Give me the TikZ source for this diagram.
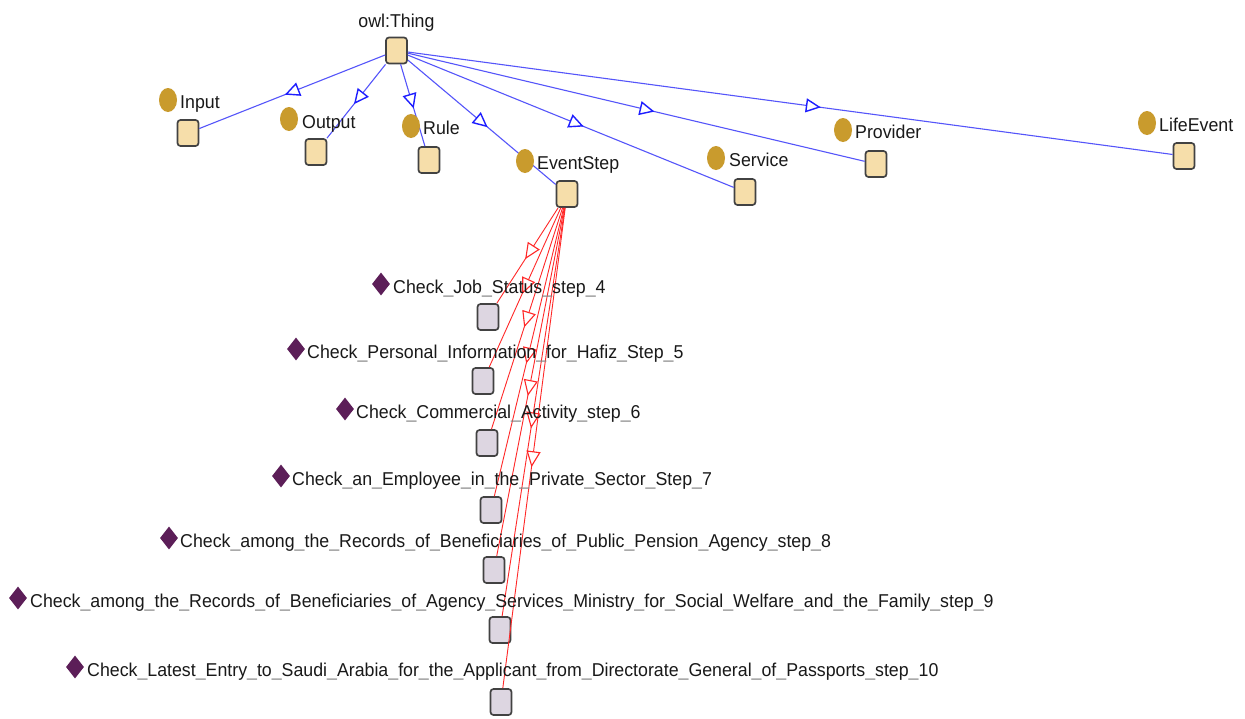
\documentclass[tikz,border=0pt]{standalone}
\usepackage{fontspec}
\setmainfont[FakeStretch=0.955]{Liberation Sans}
\usetikzlibrary{arrows.meta,decorations.markings,shapes.geometric}

\definecolor{classfill}{RGB}{246,222,170}
\definecolor{indfill}{RGB}{221,214,225}
\definecolor{boxline}{RGB}{66,66,66}
\definecolor{dotgold}{RGB}{201,155,45}
\definecolor{dotpurple}{RGB}{92,30,88}
\definecolor{isablue}{RGB}{85,85,250}
\definecolor{tipblue}{RGB}{30,30,255}
\definecolor{typered}{RGB}{255,40,40}
\definecolor{txt}{RGB}{25,25,25}
\definecolor{uscol}{RGB}{135,135,135}
\newcommand\us{{\color{uscol}\_}}

\tikzset{
  boxbase/.style={draw=boxline, line width=1.7pt, rounded corners=3pt,
    minimum width=21pt, minimum height=26pt, inner sep=0pt},
  classbox/.style={boxbase, fill=classfill},
  indbox/.style={boxbase, fill=indfill},
  classdot/.style={ellipse, fill=dotgold, minimum width=18pt, minimum height=24pt, inner sep=0pt},
  inddot/.style={diamond, fill=dotpurple, minimum width=18pt, minimum height=23pt, inner sep=0pt},
  lbl/.style={anchor=base west, inner sep=0pt, text=txt},
  isa/.style={draw=isablue, line width=1.1pt, postaction={decorate},
    decoration={markings, mark=at position 0.54 with
      {\arrow[tipblue, line width=1.4pt]{Triangle[fill=white, length=15pt, width=14pt]}}}},
  typeof/.style={draw=typered, line width=0.9pt, postaction={decorate},
    decoration={markings, mark=at position 0.54 with
      {\arrow[typered, line width=1.1pt]{Triangle[fill=white, length=16pt, width=14pt]}}}},
}

\begin{document}
\begin{tikzpicture}[x=1pt, y=-1pt, font=\fontsize{18.6}{21}\selectfont]
\useasboundingbox[fill=white] (0,0) rectangle (1245,718);

% class boxes
\node[classbox] (thing)     at (396.5,50.5) {};
\node[classbox] (input)     at (188,133) {};
\node[classbox] (output)    at (316,152) {};
\node[classbox] (rule)      at (429,160) {};
\node[classbox] (eventstep) at (567,194) {};
\node[classbox] (service)   at (745,192) {};
\node[classbox] (provider)  at (876,164) {};
\node[classbox] (lifeevent) at (1184,156) {};

% individual boxes
\node[indbox] (s4)  at (488,317) {};
\node[indbox] (s5)  at (483,381) {};
\node[indbox] (s6)  at (487,443) {};
\node[indbox] (s7)  at (491,510) {};
\node[indbox] (s8)  at (494,570) {};
\node[indbox] (s9)  at (500,630) {};
\node[indbox] (s10) at (501,702) {};

% subclass edges
\foreach \c in {input,output,rule,eventstep,service,provider,lifeevent}
  \path[isa] (thing) -- (\c);

% instance edges
\foreach \i in {s4,s5,s6,s7,s8,s9,s10}
  \path[typeof] (eventstep) -- (\i);

% class labels
\node[anchor=base, inner sep=0pt, text=txt] (thing-lbl) at (396.5,27) {owl:Thing};
\node[classdot] (input-dot) at (168,100) {};
\node[lbl] (input-lbl) at (180,108) {Input};
\node[classdot] (output-dot) at (289,119) {};
\node[lbl] (output-lbl) at (302,128) {Output};
\node[classdot] (rule-dot) at (411,126) {};
\node[lbl] (rule-lbl) at (423,134) {Rule};
\node[classdot] (eventstep-dot) at (525,161) {};
\node[lbl] (eventstep-lbl) at (537,169) {EventStep};
\node[classdot] (service-dot) at (716,158) {};
\node[lbl] (service-lbl) at (729,166) {Service};
\node[classdot] (provider-dot) at (843,130) {};
\node[lbl] (provider-lbl) at (855,138) {Provider};
\node[classdot] (lifeevent-dot) at (1147,123) {};
\node[lbl] (lifeevent-lbl) at (1159,131) {LifeEvent};

% individual labels
\node[inddot] (s4-dot) at (381,284) {};
\node[lbl] (s4-lbl) at (393,293) {Check\us Job\us Status\us step\us 4};
\node[inddot] (s5-dot) at (296,349) {};
\node[lbl] (s5-lbl) at (307,358) {Check\us Personal\us Information\us for\us Hafiz\us Step\us 5};
\node[inddot] (s6-dot) at (345,409) {};
\node[lbl] (s6-lbl) at (356,418) {Check\us Commercial\us Activity\us step\us 6};
\node[inddot] (s7-dot) at (281,476) {};
\node[lbl] (s7-lbl) at (292,485) {Check\us an\us Employee\us in\us the\us Private\us Sector\us Step\us 7};
\node[inddot] (s8-dot) at (169,538) {};
\node[lbl] (s8-lbl) at (180,547) {Check\us among\us the\us Records\us of\us Beneficiaries\us of\us Public\us Pension\us Agency\us step\us 8};
\node[inddot] (s9-dot) at (18,598) {};
\node[lbl] (s9-lbl) at (30,607) {Check\us among\us the\us Records\us of\us Beneficiaries\us of\us Agency\us Services\us Ministry\us for\us Social\us Welfare\us and\us the\us Family\us step\us 9};
\node[inddot] (s10-dot) at (75,667) {};
\node[lbl] (s10-lbl) at (87,676) {Check\us Latest\us Entry\us to\us Saudi\us Arabia\us for\us the\us Applicant\us from\us Directorate\us General\us of\us Passports\us step\us 10};
\end{tikzpicture}
\end{document}
